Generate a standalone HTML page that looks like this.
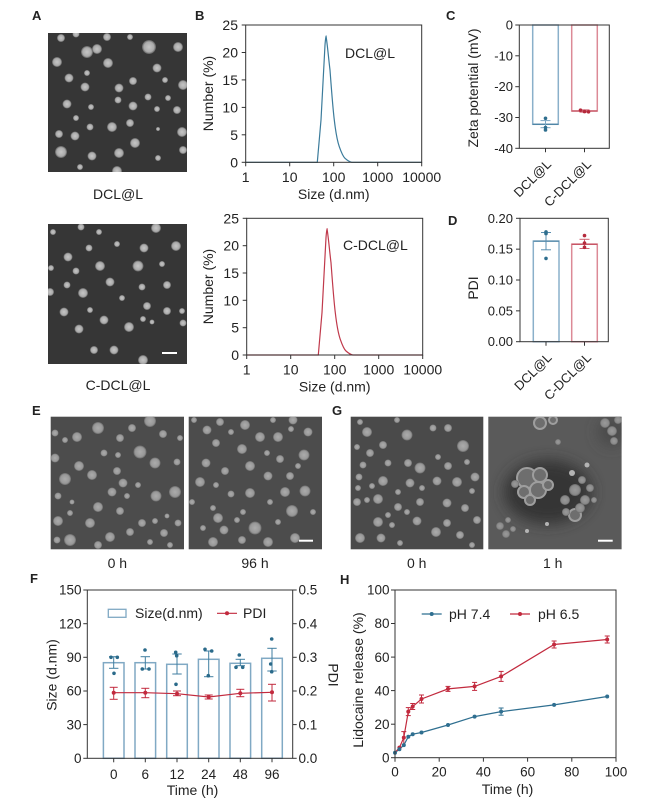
<!DOCTYPE html>
<html><head><meta charset="utf-8"><style>
html,body{margin:0;padding:0;background:#fff;}
svg{display:block;}
text{font-family:"Liberation Sans",Arial,sans-serif;fill:#222;}
</style></head><body>
<svg width="653" height="806" viewBox="0 0 653 806" xmlns="http://www.w3.org/2000/svg">
<defs>
<radialGradient id="ga"><stop offset="0" stop-color="#c6c6c6"/><stop offset="0.72" stop-color="#aaaaaa"/><stop offset="1" stop-color="#5e5e5e"/></radialGradient>
<radialGradient id="ge"><stop offset="0" stop-color="#acacac"/><stop offset="0.75" stop-color="#989898"/><stop offset="1" stop-color="#6a6a6a"/></radialGradient>
<radialGradient id="gg"><stop offset="0" stop-color="#9a9a9a"/><stop offset="0.75" stop-color="#8a8a8a"/><stop offset="1" stop-color="#666"/></radialGradient>
<clipPath id="cA1"><rect x="48" y="33" width="139" height="139"/></clipPath>
<clipPath id="cA2"><rect x="48" y="224" width="139" height="140"/></clipPath>
<clipPath id="cE1"><rect x="50.7" y="416.7" width="133.3" height="132.6"/></clipPath>
<clipPath id="cE2"><rect x="188.7" y="416.7" width="133.3" height="132.6"/></clipPath>
<clipPath id="cG1"><rect x="350.7" y="416.7" width="132.6" height="132.6"/></clipPath>
<clipPath id="cG2"><rect x="488.3" y="416.7" width="133.3" height="132.6"/></clipPath>
<filter id="bl" x="-50%" y="-50%" width="200%" height="200%"><feGaussianBlur stdDeviation="7"/></filter>
</defs>
<rect width="653" height="806" fill="#fff"/>

<!-- panel letters -->
<g font-weight="bold" font-size="13">
<text x="32" y="20">A</text><text x="195" y="20">B</text><text x="446" y="20">C</text>
<text x="448" y="225">D</text><text x="32" y="415">E</text><text x="332" y="415">G</text>
<text x="30" y="583">F</text><text x="340" y="584">H</text>
</g>

<!-- A top image -->
<rect x="48" y="33" width="139" height="139" fill="#363636"/>
<g clip-path="url(#cA1)" fill="url(#ga)">
<circle cx="61" cy="38" r="4"/><circle cx="76" cy="34" r="3.5"/><circle cx="107" cy="37" r="4"/><circle cx="130" cy="37" r="3"/>
<circle cx="149" cy="47" r="7"/><circle cx="178" cy="47" r="5"/><circle cx="87" cy="52" r="6"/><circle cx="97" cy="49" r="5"/>
<circle cx="57" cy="62" r="5"/><circle cx="108" cy="63" r="5"/><circle cx="157" cy="68" r="4.5"/><circle cx="87" cy="73" r="3"/>
<circle cx="69" cy="78" r="4.5"/><circle cx="133" cy="81" r="4"/><circle cx="165" cy="80" r="3"/><circle cx="183" cy="85" r="5"/>
<circle cx="85" cy="87" r="4.5"/><circle cx="119" cy="88" r="4.5"/><circle cx="148" cy="97" r="3.5"/><circle cx="168" cy="98" r="3"/>
<circle cx="67" cy="104" r="4.5"/><circle cx="118" cy="100" r="3.5"/><circle cx="91" cy="107" r="3"/><circle cx="133" cy="106" r="4.5"/>
<circle cx="157" cy="109" r="3"/><circle cx="177" cy="110" r="4"/><circle cx="76" cy="118" r="3"/><circle cx="112" cy="127" r="5"/>
<circle cx="90" cy="127" r="3.5"/><circle cx="130" cy="123" r="4"/><circle cx="59" cy="134" r="4"/><circle cx="75" cy="136" r="4.5"/>
<circle cx="182" cy="132" r="5"/><circle cx="135" cy="143" r="5"/><circle cx="158" cy="129" r="2"/><circle cx="61" cy="152" r="6"/>
<circle cx="92" cy="156" r="4.5"/><circle cx="119" cy="153" r="5"/><circle cx="158" cy="158" r="3"/><circle cx="183" cy="150" r="4"/>
<circle cx="117" cy="171" r="5"/><circle cx="80" cy="167" r="3"/>
</g>
<text x="118" y="199" font-size="14" text-anchor="middle">DCL@L</text>

<!-- A bottom image -->
<rect x="48" y="224" width="139" height="140" fill="#363636"/>
<g clip-path="url(#cA2)" fill="url(#ga)">
<circle cx="81" cy="227" r="3.5"/><circle cx="99" cy="232" r="3"/><circle cx="156" cy="228" r="5"/><circle cx="53" cy="232" r="3"/>
<circle cx="89" cy="248" r="3.5"/><circle cx="117" cy="244" r="3"/><circle cx="144" cy="248" r="4.5"/><circle cx="176" cy="246" r="5"/>
<circle cx="68" cy="257" r="4.5"/><circle cx="100" cy="266" r="5"/><circle cx="138" cy="266" r="5.5"/><circle cx="162" cy="264" r="3"/>
<circle cx="51" cy="268" r="3"/><circle cx="76" cy="271" r="3.5"/><circle cx="110" cy="282" r="4.5"/><circle cx="67" cy="285" r="3.5"/>
<circle cx="142" cy="287" r="3.5"/><circle cx="167" cy="285" r="4"/><circle cx="83" cy="293" r="5"/><circle cx="50" cy="292" r="4"/>
<circle cx="122" cy="298" r="3"/><circle cx="147" cy="306" r="4"/><circle cx="90" cy="310" r="3"/><circle cx="64" cy="312" r="4.5"/>
<circle cx="167" cy="311" r="4"/><circle cx="104" cy="320" r="4.5"/><circle cx="143" cy="319" r="3"/><circle cx="182" cy="311" r="3"/>
<circle cx="152" cy="322" r="2.5"/><circle cx="183" cy="323" r="3.5"/><circle cx="79" cy="329" r="4.5"/><circle cx="129" cy="327" r="5"/>
<circle cx="94" cy="350" r="4"/><circle cx="114" cy="350" r="4.5"/><circle cx="143" cy="360" r="5"/>
</g>
<line x1="162" y1="353" x2="177" y2="353" stroke="#fff" stroke-width="2"/>
<text x="118" y="390" font-size="14" text-anchor="middle">C-DCL@L</text>

<!-- B top -->
<g font-size="14">
<path d="M245.7 162.3 L317.3 162.3 L321 120 L325 45 Q325.7 36 326 36 C327.5 45 328.5 58 330 70 C331.5 90 332.8 108 334.3 120 C335.8 133 337.3 141 339.3 146.7 C341.5 153 343 156.5 345 158.3 C347.5 160.5 349.5 161.8 351.7 162.3 L421.7 162.3" fill="none" stroke="#3b7b9b" stroke-width="1.2"/>
<rect x="245.7" y="25" width="176" height="137.3" fill="none" stroke="#333" stroke-width="1"/>
<g stroke="#333" stroke-width="1">
<line x1="241.7" y1="162.3" x2="245.7" y2="162.3"/><line x1="241.7" y1="134.8" x2="245.7" y2="134.8"/><line x1="241.7" y1="107.4" x2="245.7" y2="107.4"/><line x1="241.7" y1="79.9" x2="245.7" y2="79.9"/><line x1="241.7" y1="52.5" x2="245.7" y2="52.5"/><line x1="241.7" y1="25" x2="245.7" y2="25"/>
<line x1="245.7" y1="162.3" x2="245.7" y2="166.3"/><line x1="289.7" y1="162.3" x2="289.7" y2="166.3"/><line x1="333.7" y1="162.3" x2="333.7" y2="166.3"/><line x1="377.7" y1="162.3" x2="377.7" y2="166.3"/><line x1="421.7" y1="162.3" x2="421.7" y2="166.3"/>
</g>
<g text-anchor="end"><text x="238" y="167.3">0</text><text x="238" y="139.8">5</text><text x="238" y="112.4">10</text><text x="238" y="84.9">15</text><text x="238" y="57.5">20</text><text x="238" y="30">25</text></g>
<g text-anchor="middle"><text x="245.7" y="182">1</text><text x="289.7" y="182">10</text><text x="333.7" y="182">100</text><text x="377.7" y="182">1000</text><text x="421.7" y="182">10000</text></g>
<text x="333.7" y="199" text-anchor="middle">Size (d.nm)</text>
<text transform="translate(213,93.5) rotate(-90)" text-anchor="middle">Number (%)</text>
<text x="345" y="58">DCL@L</text>
</g>

<!-- B bottom -->
<g font-size="14">
<path transform="translate(1,192.7)" d="M245.7 162.3 L317.3 162.3 L321 120 L325 45 Q325.7 36 326 36 C327.5 45 328.5 58 330 70 C331.5 90 332.8 108 334.3 120 C335.8 133 337.3 141 339.3 146.7 C341.5 153 343 156.5 345 158.3 C347.5 160.5 349.5 161.8 351.7 162.3 L421.7 162.3" fill="none" stroke="#c0394b" stroke-width="1.2"/>
<rect x="246.7" y="218.3" width="176" height="136.7" fill="none" stroke="#333" stroke-width="1"/>
<g stroke="#333" stroke-width="1">
<line x1="242.7" y1="355" x2="246.7" y2="355"/><line x1="242.7" y1="327.7" x2="246.7" y2="327.7"/><line x1="242.7" y1="300.3" x2="246.7" y2="300.3"/><line x1="242.7" y1="273" x2="246.7" y2="273"/><line x1="242.7" y1="245.7" x2="246.7" y2="245.7"/><line x1="242.7" y1="218.3" x2="246.7" y2="218.3"/>
<line x1="246.7" y1="355" x2="246.7" y2="359"/><line x1="290.7" y1="355" x2="290.7" y2="359"/><line x1="334.7" y1="355" x2="334.7" y2="359"/><line x1="378.7" y1="355" x2="378.7" y2="359"/><line x1="422.7" y1="355" x2="422.7" y2="359"/>
</g>
<g text-anchor="end"><text x="239" y="360">0</text><text x="239" y="332.7">5</text><text x="239" y="305.3">10</text><text x="239" y="278">15</text><text x="239" y="250.7">20</text><text x="239" y="223.3">25</text></g>
<g text-anchor="middle"><text x="246.7" y="374.5">1</text><text x="290.7" y="374.5">10</text><text x="334.7" y="374.5">100</text><text x="378.7" y="374.5">1000</text><text x="422.7" y="374.5">10000</text></g>
<text x="334.7" y="391.5" text-anchor="middle">Size (d.nm)</text>
<text transform="translate(213,286.5) rotate(-90)" text-anchor="middle">Number (%)</text>
<text x="343" y="250">C-DCL@L</text>
</g>

<!-- C -->
<g font-size="13">
<rect x="532.7" y="25" width="25.6" height="99.3" fill="none" stroke="#8ab0ca" stroke-width="1.5"/>
<rect x="571.7" y="25" width="25.6" height="86" fill="none" stroke="#dc8a96" stroke-width="1.5"/>
<line x1="532.7" y1="124.3" x2="558.3" y2="124.3" stroke="#4f86a6" stroke-width="1.3"/>
<line x1="571.7" y1="111" x2="597.3" y2="111" stroke="#c44e5e" stroke-width="1.3"/>
<g stroke="#7ba6c2" stroke-width="1"><line x1="545.5" y1="120.6" x2="545.5" y2="127.7"/><line x1="540.5" y1="120.6" x2="550.5" y2="120.6"/><line x1="540.5" y1="127.7" x2="550.5" y2="127.7"/></g>
<g stroke="#d47080" stroke-width="1"><line x1="584.5" y1="109.8" x2="584.5" y2="112.2"/><line x1="579.5" y1="109.8" x2="589.5" y2="109.8"/><line x1="579.5" y1="112.2" x2="589.5" y2="112.2"/></g>
<g fill="#2e6e8e"><circle cx="545.5" cy="118.3" r="1.8"/><circle cx="545.5" cy="127.5" r="1.8"/><circle cx="545.5" cy="130" r="1.8"/></g>
<g fill="#b52a3c"><circle cx="580.5" cy="110.2" r="1.8"/><circle cx="584.5" cy="111.6" r="1.8"/><circle cx="588.5" cy="111.8" r="1.8"/></g>
<rect x="519.3" y="25" width="90" height="123.3" fill="none" stroke="#333" stroke-width="1"/>
<g stroke="#333" stroke-width="1">
<line x1="515.3" y1="25" x2="519.3" y2="25"/><line x1="515.3" y1="55.8" x2="519.3" y2="55.8"/><line x1="515.3" y1="86.7" x2="519.3" y2="86.7"/><line x1="515.3" y1="117.5" x2="519.3" y2="117.5"/><line x1="515.3" y1="148.3" x2="519.3" y2="148.3"/>
<line x1="545.5" y1="148.3" x2="545.5" y2="152.3"/><line x1="584.5" y1="148.3" x2="584.5" y2="152.3"/>
</g>
<g text-anchor="end"><text x="513" y="29.5">0</text><text x="513" y="60.3">-10</text><text x="513" y="91.2">-20</text><text x="513" y="122">-30</text><text x="513" y="152.8">-40</text></g>
<text transform="translate(478,88) rotate(-90)" text-anchor="middle" font-size="14">Zeta potential (mV)</text>
<text transform="translate(552,165) rotate(-45)" text-anchor="end">DCL@L</text>
<text transform="translate(592,165) rotate(-45)" text-anchor="end">C-DCL@L</text>
</g>

<!-- D -->
<g font-size="13">
<rect x="533.3" y="241.1" width="25.7" height="100.6" fill="none" stroke="#8ab0ca" stroke-width="1.5"/>
<rect x="571.7" y="244.2" width="25.6" height="97.5" fill="none" stroke="#dc8a96" stroke-width="1.5"/>
<line x1="533.3" y1="241.1" x2="559" y2="241.1" stroke="#4f86a6" stroke-width="1.3"/>
<line x1="571.7" y1="244.2" x2="597.3" y2="244.2" stroke="#c44e5e" stroke-width="1.3"/>
<g stroke="#5b8fb0" stroke-width="1"><line x1="546" y1="232.5" x2="546" y2="249.8"/><line x1="541" y1="232.5" x2="551" y2="232.5"/><line x1="541" y1="249.8" x2="551" y2="249.8"/></g>
<g stroke="#d06070" stroke-width="1"><line x1="584.5" y1="239.3" x2="584.5" y2="248.5"/><line x1="579.5" y1="239.3" x2="589.5" y2="239.3"/><line x1="579.5" y1="248.5" x2="589.5" y2="248.5"/></g>
<g fill="#2e6e8e"><circle cx="546" cy="231.9" r="1.8"/><circle cx="546" cy="233.6" r="1.8"/><circle cx="546" cy="258.4" r="1.8"/></g>
<g fill="#b52a3c"><circle cx="584.5" cy="235.6" r="1.8"/><circle cx="584.5" cy="243" r="1.8"/><circle cx="584.5" cy="247.3" r="1.8"/></g>
<rect x="520" y="218.3" width="88.3" height="123.4" fill="none" stroke="#333" stroke-width="1"/>
<g stroke="#333" stroke-width="1">
<line x1="516" y1="341.7" x2="520" y2="341.7"/><line x1="516" y1="310.85" x2="520" y2="310.85"/><line x1="516" y1="280" x2="520" y2="280"/><line x1="516" y1="249.15" x2="520" y2="249.15"/><line x1="516" y1="218.3" x2="520" y2="218.3"/>
<line x1="546" y1="341.7" x2="546" y2="345.7"/><line x1="584.5" y1="341.7" x2="584.5" y2="345.7"/>
</g>
<g text-anchor="end"><text x="513" y="346.2">0.00</text><text x="513" y="315.35">0.05</text><text x="513" y="284.5">0.10</text><text x="513" y="253.65">0.15</text><text x="513" y="222.8">0.20</text></g>
<text transform="translate(478,288) rotate(-90)" text-anchor="middle" font-size="14">PDI</text>
<text transform="translate(552.5,358.4) rotate(-45)" text-anchor="end">DCL@L</text>
<text transform="translate(592,358.4) rotate(-45)" text-anchor="end">C-DCL@L</text>
</g>

<!-- E images -->
<rect x="50.7" y="416.7" width="133.3" height="132.6" fill="#4c4c4c"/>
<g clip-path="url(#cE1)" fill="url(#ge)">
<circle cx="55" cy="433" r="3.5"/><circle cx="65" cy="440" r="3"/><circle cx="77" cy="437" r="5"/><circle cx="98" cy="428" r="6"/>
<circle cx="120" cy="438" r="4"/><circle cx="132" cy="428" r="4"/><circle cx="150" cy="421" r="6"/><circle cx="163" cy="434" r="4"/>
<circle cx="180" cy="438" r="3"/><circle cx="55" cy="458" r="4.5"/><circle cx="79" cy="466" r="5"/><circle cx="104" cy="453" r="3.5"/>
<circle cx="118" cy="455" r="3"/><circle cx="140" cy="452" r="6.5"/><circle cx="155" cy="463" r="5.5"/><circle cx="177" cy="462" r="3.5"/>
<circle cx="65" cy="479" r="6"/><circle cx="92" cy="475" r="5"/><circle cx="117" cy="471" r="4"/><circle cx="123" cy="483" r="4.5"/>
<circle cx="138" cy="485" r="3"/><circle cx="175" cy="492" r="6"/><circle cx="112" cy="492" r="4.5"/><circle cx="58" cy="496" r="3.5"/>
<circle cx="72" cy="502" r="2.5"/><circle cx="127" cy="496" r="3"/><circle cx="156" cy="496" r="5.5"/><circle cx="98" cy="507" r="5"/>
<circle cx="120" cy="511" r="4"/><circle cx="70" cy="513" r="3"/><circle cx="58" cy="521" r="5"/><circle cx="90" cy="523" r="5"/>
<circle cx="142" cy="523" r="4"/><circle cx="155" cy="521" r="3"/><circle cx="167" cy="516" r="2.5"/><circle cx="178" cy="523" r="3.5"/>
<circle cx="70" cy="540" r="6"/><circle cx="57" cy="540" r="3.5"/><circle cx="110" cy="537" r="5"/><circle cx="130" cy="532" r="4"/>
<circle cx="164" cy="533" r="4"/><circle cx="98" cy="545" r="4"/><circle cx="170" cy="545" r="3"/><circle cx="150" cy="542" r="3"/>
</g>
<rect x="188.7" y="416.7" width="133.3" height="132.6" fill="#4c4c4c"/>
<g clip-path="url(#cE2)" fill="url(#ge)">
<circle cx="194" cy="420" r="3"/><circle cx="220" cy="422" r="4"/><circle cx="245" cy="425" r="5"/><circle cx="273" cy="420" r="3"/>
<circle cx="293" cy="420" r="4.5"/><circle cx="308" cy="432" r="4.5"/><circle cx="207" cy="430" r="4.5"/><circle cx="231" cy="432" r="3"/>
<circle cx="260" cy="437" r="5"/><circle cx="278" cy="437" r="5"/><circle cx="291" cy="429" r="3"/><circle cx="216" cy="443" r="4"/>
<circle cx="242" cy="449" r="5"/><circle cx="267" cy="453" r="3"/><circle cx="280" cy="459" r="4"/><circle cx="304" cy="455" r="5.5"/>
<circle cx="206" cy="463" r="4.5"/><circle cx="225" cy="471" r="4"/><circle cx="250" cy="466" r="5"/><circle cx="268" cy="476" r="4.5"/>
<circle cx="290" cy="476" r="4"/><circle cx="298" cy="466" r="3"/><circle cx="200" cy="482" r="5"/><circle cx="216" cy="485" r="3"/>
<circle cx="250" cy="493" r="5"/><circle cx="231" cy="494" r="3.5"/><circle cx="285" cy="492" r="5"/><circle cx="305" cy="491" r="5.5"/>
<circle cx="192" cy="502" r="3"/><circle cx="213" cy="508" r="3"/><circle cx="243" cy="512" r="3"/><circle cx="270" cy="502" r="3"/>
<circle cx="292" cy="511" r="6"/><circle cx="218" cy="518" r="5"/><circle cx="255" cy="528" r="6.5"/><circle cx="237" cy="520" r="3"/>
<circle cx="278" cy="522" r="3"/><circle cx="224" cy="530" r="4.5"/><circle cx="203" cy="528" r="3"/><circle cx="213" cy="542" r="5"/>
<circle cx="242" cy="540" r="4"/><circle cx="268" cy="542" r="5"/><circle cx="295" cy="538" r="5"/><circle cx="313" cy="512" r="3"/>
</g>
<line x1="299" y1="540.7" x2="313" y2="540.7" stroke="#fff" stroke-width="2"/>
<g font-size="14" text-anchor="middle"><text x="117.3" y="568">0 h</text><text x="255" y="568">96 h</text><text x="416.7" y="568">0 h</text><text x="552.7" y="568">1 h</text></g>

<!-- G images -->
<rect x="350.7" y="416.7" width="132.6" height="132.6" fill="#4a4a4a"/>
<g clip-path="url(#cG1)" fill="url(#ge)">
<circle cx="367" cy="432" r="5"/><circle cx="383" cy="445" r="4"/><circle cx="407" cy="435" r="5.5"/><circle cx="433" cy="428" r="3.5"/>
<circle cx="448" cy="428" r="4"/><circle cx="463" cy="446" r="6"/><circle cx="357" cy="447" r="3"/><circle cx="370" cy="453" r="4"/>
<circle cx="388" cy="463" r="3.5"/><circle cx="408" cy="463" r="4"/><circle cx="420" cy="468" r="5.5"/><circle cx="438" cy="457" r="3"/>
<circle cx="448" cy="466" r="4"/><circle cx="467" cy="462" r="3"/><circle cx="363" cy="465" r="3.5"/><circle cx="359" cy="477" r="3.5"/>
<circle cx="383" cy="481" r="5"/><circle cx="410" cy="483" r="4.5"/><circle cx="437" cy="481" r="4.5"/><circle cx="457" cy="482" r="5"/>
<circle cx="475" cy="477" r="4.5"/><circle cx="372" cy="486" r="3"/><circle cx="358" cy="488" r="3"/><circle cx="398" cy="492" r="3"/>
<circle cx="422" cy="488" r="3"/><circle cx="472" cy="491" r="3"/><circle cx="378" cy="499" r="5"/><circle cx="367" cy="500" r="3"/>
<circle cx="357" cy="502" r="4"/><circle cx="420" cy="502" r="4"/><circle cx="447" cy="503" r="4.5"/><circle cx="465" cy="508" r="4"/>
<circle cx="398" cy="507" r="4"/><circle cx="407" cy="512" r="3"/><circle cx="388" cy="515" r="3"/><circle cx="378" cy="522" r="5"/>
<circle cx="392" cy="525" r="3"/><circle cx="417" cy="521" r="4.5"/><circle cx="447" cy="523" r="4"/><circle cx="477" cy="520" r="4"/>
<circle cx="360" cy="538" r="5"/><circle cx="381" cy="538" r="4.5"/><circle cx="400" cy="543" r="3"/><circle cx="436" cy="532" r="5"/>
<circle cx="460" cy="535" r="4"/><circle cx="472" cy="545" r="3"/><circle cx="360" cy="422" r="3"/><circle cx="397" cy="420" r="3"/>
</g>
<rect x="488.3" y="416.7" width="133.3" height="132.6" fill="#5a5a5a"/>
<g clip-path="url(#cG2)">
<ellipse cx="548" cy="492" rx="44" ry="32" fill="#363636" filter="url(#bl)"/>
<ellipse cx="612" cy="432" rx="14" ry="14" fill="#484848" filter="url(#bl)"/>
<g fill="#6e6e6e" stroke="#9e9e9e" stroke-width="2">
<circle cx="527" cy="478" r="10"/><circle cx="540" cy="475" r="7"/><circle cx="538" cy="490" r="8"/><circle cx="524" cy="492" r="6"/>
<circle cx="548" cy="485" r="5"/><circle cx="530" cy="500" r="5"/><circle cx="575" cy="515" r="6"/>
<circle cx="540" cy="423" r="6"/><circle cx="553" cy="420" r="4"/>
</g>
<g fill="url(#gg)">
<circle cx="565" cy="500" r="5"/><circle cx="575" cy="490" r="6"/><circle cx="585" cy="500" r="5"/><circle cx="580" cy="508" r="5"/>
<circle cx="590" cy="488" r="4"/><circle cx="566" cy="512" r="4"/><circle cx="582" cy="480" r="4"/><circle cx="594" cy="500" r="3"/>
<circle cx="605" cy="423" r="5"/><circle cx="612" cy="431" r="5"/><circle cx="618" cy="420" r="4"/><circle cx="614" cy="441" r="4"/>
<circle cx="500" cy="526" r="4"/><circle cx="508" cy="520" r="3"/><circle cx="506" cy="534" r="4"/><circle cx="513" cy="529" r="3"/>
<circle cx="515" cy="484" r="4"/><circle cx="558" cy="442" r="3"/>
</g>
<g fill="#b4b4b4"><circle cx="587" cy="465" r="2.5"/><circle cx="572" cy="473" r="3"/><circle cx="527" cy="531" r="2"/><circle cx="547" cy="524" r="2"/></g>
</g>
<line x1="598" y1="540.7" x2="612.7" y2="540.7" stroke="#fff" stroke-width="2"/>

<!-- F -->
<g font-size="13.5">
<g fill="#fff" stroke="#80a9c4" stroke-width="1.5">
<rect x="103.4" y="662.7" width="20.6" height="95.6"/><rect x="135" y="662.7" width="20.6" height="95.6"/>
<rect x="166.7" y="664.3" width="20.6" height="94"/><rect x="198.4" y="659.3" width="20.6" height="99"/>
<rect x="230" y="663.3" width="20.6" height="95"/><rect x="261.7" y="658.3" width="20.6" height="100"/>
</g>
<g stroke="#3f7ea0" stroke-width="1">
<line x1="113.7" y1="656.7" x2="113.7" y2="668.3"/><line x1="109" y1="656.7" x2="118.4" y2="656.7"/><line x1="109" y1="668.3" x2="118.4" y2="668.3"/>
<line x1="145.3" y1="656.7" x2="145.3" y2="669"/><line x1="140.6" y1="656.7" x2="150" y2="656.7"/><line x1="140.6" y1="669" x2="150" y2="669"/>
<line x1="177" y1="654" x2="177" y2="674"/><line x1="172.3" y1="654" x2="181.7" y2="654"/><line x1="172.3" y1="674" x2="181.7" y2="674"/>
<line x1="208.7" y1="651" x2="208.7" y2="676.7"/><line x1="204" y1="651" x2="213.4" y2="651"/><line x1="204" y1="676.7" x2="213.4" y2="676.7"/>
<line x1="240.3" y1="659.3" x2="240.3" y2="665.7"/><line x1="235.6" y1="659.3" x2="245" y2="659.3"/><line x1="235.6" y1="665.7" x2="245" y2="665.7"/>
<line x1="272" y1="648.3" x2="272" y2="671"/><line x1="267.3" y1="648.3" x2="276.7" y2="648.3"/><line x1="267.3" y1="671" x2="276.7" y2="671"/>
</g>
<g fill="#2a6a8a">
<circle cx="111" cy="657.3" r="1.8"/><circle cx="117.3" cy="657.3" r="1.8"/><circle cx="114" cy="673.3" r="1.8"/>
<circle cx="145" cy="650" r="1.8"/><circle cx="142.3" cy="669" r="1.8"/><circle cx="149" cy="669" r="1.8"/>
<circle cx="175.7" cy="652.3" r="1.8"/><circle cx="176.7" cy="655.7" r="1.8"/><circle cx="176" cy="684.3" r="1.8"/>
<circle cx="205" cy="649.3" r="1.8"/><circle cx="211.7" cy="651" r="1.8"/><circle cx="208.3" cy="675.7" r="1.8"/>
<circle cx="239.3" cy="655" r="1.8"/><circle cx="236" cy="667.3" r="1.8"/><circle cx="242.7" cy="667.3" r="1.8"/>
<circle cx="271.7" cy="639" r="1.8"/><circle cx="270.7" cy="664" r="1.8"/><circle cx="271.7" cy="671.7" r="1.8"/>
</g>
<polyline points="113.7,692.7 145.3,692.7 177,693.7 208.7,697 240.3,693.3 272,692.3" fill="none" stroke="#c22a3e" stroke-width="1.2"/>
<g stroke="#c22a3e" stroke-width="1">
<line x1="113.7" y1="687.3" x2="113.7" y2="699.3"/><line x1="109.7" y1="687.3" x2="117.7" y2="687.3"/><line x1="109.7" y1="699.3" x2="117.7" y2="699.3"/>
<line x1="145.3" y1="688.3" x2="145.3" y2="697.7"/><line x1="141.3" y1="688.3" x2="149.3" y2="688.3"/><line x1="141.3" y1="697.7" x2="149.3" y2="697.7"/>
<line x1="177" y1="691" x2="177" y2="695.7"/><line x1="173" y1="691" x2="181" y2="691"/><line x1="173" y1="695.7" x2="181" y2="695.7"/>
<line x1="208.7" y1="695" x2="208.7" y2="699"/><line x1="204.7" y1="695" x2="212.7" y2="695"/><line x1="204.7" y1="699" x2="212.7" y2="699"/>
<line x1="240.3" y1="689.3" x2="240.3" y2="696.7"/><line x1="236.3" y1="689.3" x2="244.3" y2="689.3"/><line x1="236.3" y1="696.7" x2="244.3" y2="696.7"/>
<line x1="272" y1="684.3" x2="272" y2="701"/><line x1="268" y1="684.3" x2="276" y2="684.3"/><line x1="268" y1="701" x2="276" y2="701"/>
</g>
<g fill="#c22a3e"><circle cx="113.7" cy="692.7" r="2"/><circle cx="145.3" cy="692.7" r="2"/><circle cx="177" cy="693.7" r="2"/><circle cx="208.7" cy="697" r="2"/><circle cx="240.3" cy="693.3" r="2"/><circle cx="272" cy="692.3" r="2"/></g>
<rect x="87.3" y="590" width="205.4" height="168.3" fill="none" stroke="#333" stroke-width="1"/>
<g stroke="#333" stroke-width="1">
<line x1="83.3" y1="758.3" x2="87.3" y2="758.3"/><line x1="83.3" y1="724.6" x2="87.3" y2="724.6"/><line x1="83.3" y1="691" x2="87.3" y2="691"/><line x1="83.3" y1="657.3" x2="87.3" y2="657.3"/><line x1="83.3" y1="623.7" x2="87.3" y2="623.7"/><line x1="83.3" y1="590" x2="87.3" y2="590"/>
<line x1="292.7" y1="758.3" x2="296.7" y2="758.3"/><line x1="292.7" y1="724.6" x2="296.7" y2="724.6"/><line x1="292.7" y1="691" x2="296.7" y2="691"/><line x1="292.7" y1="657.3" x2="296.7" y2="657.3"/><line x1="292.7" y1="623.7" x2="296.7" y2="623.7"/><line x1="292.7" y1="590" x2="296.7" y2="590"/>
<line x1="113.7" y1="758.3" x2="113.7" y2="762.3"/><line x1="145.3" y1="758.3" x2="145.3" y2="762.3"/><line x1="177" y1="758.3" x2="177" y2="762.3"/><line x1="208.7" y1="758.3" x2="208.7" y2="762.3"/><line x1="240.3" y1="758.3" x2="240.3" y2="762.3"/><line x1="272" y1="758.3" x2="272" y2="762.3"/>
</g>
<g text-anchor="end"><text x="81.5" y="763">0</text><text x="81.5" y="729.3">30</text><text x="81.5" y="695.7">60</text><text x="81.5" y="662">90</text><text x="81.5" y="628.4">120</text><text x="81.5" y="594.7">150</text></g>
<g><text x="298.5" y="763">0.0</text><text x="298.5" y="729.3">0.1</text><text x="298.5" y="695.7">0.2</text><text x="298.5" y="662">0.3</text><text x="298.5" y="628.4">0.4</text><text x="298.5" y="594.7">0.5</text></g>
<g text-anchor="middle"><text x="113.7" y="779">0</text><text x="145.3" y="779">6</text><text x="177" y="779">12</text><text x="208.7" y="779">24</text><text x="240.3" y="779">48</text><text x="272" y="779">96</text></g>
<text x="192.5" y="795" text-anchor="middle" font-size="14">Time (h)</text>
<text transform="translate(56.5,675) rotate(-90)" text-anchor="middle" font-size="14">Size (d.nm)</text>
<text transform="translate(328.5,675) rotate(90)" text-anchor="middle" font-size="14">PDI</text>
<rect x="108.3" y="609.3" width="17.7" height="8" fill="#fff" stroke="#80a9c4" stroke-width="1.3"/>
<text x="135" y="618" font-size="14">Size(d.nm)</text>
<line x1="217" y1="613.3" x2="237" y2="613.3" stroke="#c22a3e" stroke-width="1.2"/><circle cx="227" cy="613.3" r="2" fill="#c22a3e"/>
<text x="243" y="618" font-size="14">PDI</text>
</g>

<!-- H -->
<g font-size="13.5">
<polyline points="395,752.7 399.4,749.3 403.8,745.1 408.3,736.7 412.7,734.2 421.5,732.5 448,725 474.6,716.6 501.1,711.6 554.1,704.9 607.2,696.5" fill="none" stroke="#2f6f90" stroke-width="1.2"/>
<polyline points="395,752.7 399.4,747.6 403.8,737.6 408.3,711.6 412.7,706.5 421.5,699 448,688.9 474.6,686.4 501.1,676.4 554.1,644.5 607.2,639.5" fill="none" stroke="#c22a3e" stroke-width="1.2"/>
<g stroke="#c22a3e" stroke-width="1">
<line x1="403.8" y1="731.6" x2="403.8" y2="743.6"/><line x1="401.3" y1="731.6" x2="406.3" y2="731.6"/>
<line x1="408.3" y1="707.6" x2="408.3" y2="715.6"/><line x1="405.8" y1="707.6" x2="410.8" y2="707.6"/><line x1="405.8" y1="715.6" x2="410.8" y2="715.6"/>
<line x1="412.7" y1="703.5" x2="412.7" y2="709.5"/><line x1="410.2" y1="703.5" x2="415.2" y2="703.5"/><line x1="410.2" y1="709.5" x2="415.2" y2="709.5"/>
<line x1="421.5" y1="695" x2="421.5" y2="703"/><line x1="419" y1="695" x2="424" y2="695"/><line x1="419" y1="703" x2="424" y2="703"/>
<line x1="448" y1="686.4" x2="448" y2="691.4"/><line x1="445.5" y1="686.4" x2="450.5" y2="686.4"/><line x1="445.5" y1="691.4" x2="450.5" y2="691.4"/>
<line x1="474.6" y1="682.4" x2="474.6" y2="690.4"/><line x1="472.1" y1="682.4" x2="477.1" y2="682.4"/><line x1="472.1" y1="690.4" x2="477.1" y2="690.4"/>
<line x1="501.1" y1="671.4" x2="501.1" y2="681.4"/><line x1="498.6" y1="671.4" x2="503.6" y2="671.4"/><line x1="498.6" y1="681.4" x2="503.6" y2="681.4"/>
<line x1="554.1" y1="641" x2="554.1" y2="648"/><line x1="551.6" y1="641" x2="556.6" y2="641"/><line x1="551.6" y1="648" x2="556.6" y2="648"/>
<line x1="607.2" y1="636" x2="607.2" y2="643"/><line x1="604.7" y1="636" x2="609.7" y2="636"/><line x1="604.7" y1="643" x2="609.7" y2="643"/>
</g>
<g stroke="#2f6f90" stroke-width="1">
<line x1="501.1" y1="708" x2="501.1" y2="715.2"/><line x1="498.6" y1="708" x2="503.6" y2="708"/><line x1="498.6" y1="715.2" x2="503.6" y2="715.2"/>
<line x1="474.6" y1="715" x2="474.6" y2="718.2"/>
</g>
<g fill="#c22a3e"><circle cx="399.4" cy="747.6" r="2"/><circle cx="403.8" cy="737.6" r="2"/><circle cx="408.3" cy="711.6" r="2"/><circle cx="412.7" cy="706.5" r="2"/><circle cx="421.5" cy="699" r="2"/><circle cx="448" cy="688.9" r="2"/><circle cx="474.6" cy="686.4" r="2"/><circle cx="501.1" cy="676.4" r="2"/><circle cx="554.1" cy="644.5" r="2"/><circle cx="607.2" cy="639.5" r="2"/></g>
<g fill="#2f6f90"><circle cx="395" cy="752.7" r="2"/><circle cx="399.4" cy="749.3" r="2"/><circle cx="403.8" cy="745.1" r="2"/><circle cx="408.3" cy="736.7" r="2"/><circle cx="412.7" cy="734.2" r="2"/><circle cx="421.5" cy="732.5" r="2"/><circle cx="448" cy="725" r="2"/><circle cx="474.6" cy="716.6" r="2"/><circle cx="501.1" cy="711.6" r="2"/><circle cx="554.1" cy="704.9" r="2"/><circle cx="607.2" cy="696.5" r="2"/></g>
<rect x="395" y="590" width="221" height="167.7" fill="none" stroke="#333" stroke-width="1"/>
<g stroke="#333" stroke-width="1">
<line x1="391" y1="757.7" x2="395" y2="757.7"/><line x1="391" y1="724.2" x2="395" y2="724.2"/><line x1="391" y1="690.6" x2="395" y2="690.6"/><line x1="391" y1="657.1" x2="395" y2="657.1"/><line x1="391" y1="623.5" x2="395" y2="623.5"/><line x1="391" y1="590" x2="395" y2="590"/>
<line x1="395" y1="757.7" x2="395" y2="761.7"/><line x1="439.2" y1="757.7" x2="439.2" y2="761.7"/><line x1="483.4" y1="757.7" x2="483.4" y2="761.7"/><line x1="527.6" y1="757.7" x2="527.6" y2="761.7"/><line x1="571.8" y1="757.7" x2="571.8" y2="761.7"/><line x1="616" y1="757.7" x2="616" y2="761.7"/>
</g>
<g text-anchor="end"><text x="389.5" y="762.4">0</text><text x="389.5" y="728.9">20</text><text x="389.5" y="695.3">40</text><text x="389.5" y="661.8">60</text><text x="389.5" y="628.2">80</text><text x="389.5" y="594.7">100</text></g>
<g text-anchor="middle"><text x="395" y="776.5">0</text><text x="439.2" y="776.5">20</text><text x="483.4" y="776.5">40</text><text x="527.6" y="776.5">60</text><text x="571.8" y="776.5">80</text><text x="616" y="776.5">100</text></g>
<text x="507.5" y="794" text-anchor="middle" font-size="14">Time (h)</text>
<text transform="translate(363,680) rotate(-90)" text-anchor="middle" font-size="14">Lidocaine release (%)</text>
<line x1="421.7" y1="614" x2="441.7" y2="614" stroke="#2f6f90" stroke-width="1.2"/><circle cx="431.7" cy="614" r="2" fill="#2f6f90"/>
<text x="449" y="619" font-size="14">pH 7.4</text>
<line x1="510" y1="614" x2="530" y2="614" stroke="#c22a3e" stroke-width="1.2"/><circle cx="520" cy="614" r="2" fill="#c22a3e"/>
<text x="538" y="619" font-size="14">pH 6.5</text>
</g>
</svg>
</body></html>
